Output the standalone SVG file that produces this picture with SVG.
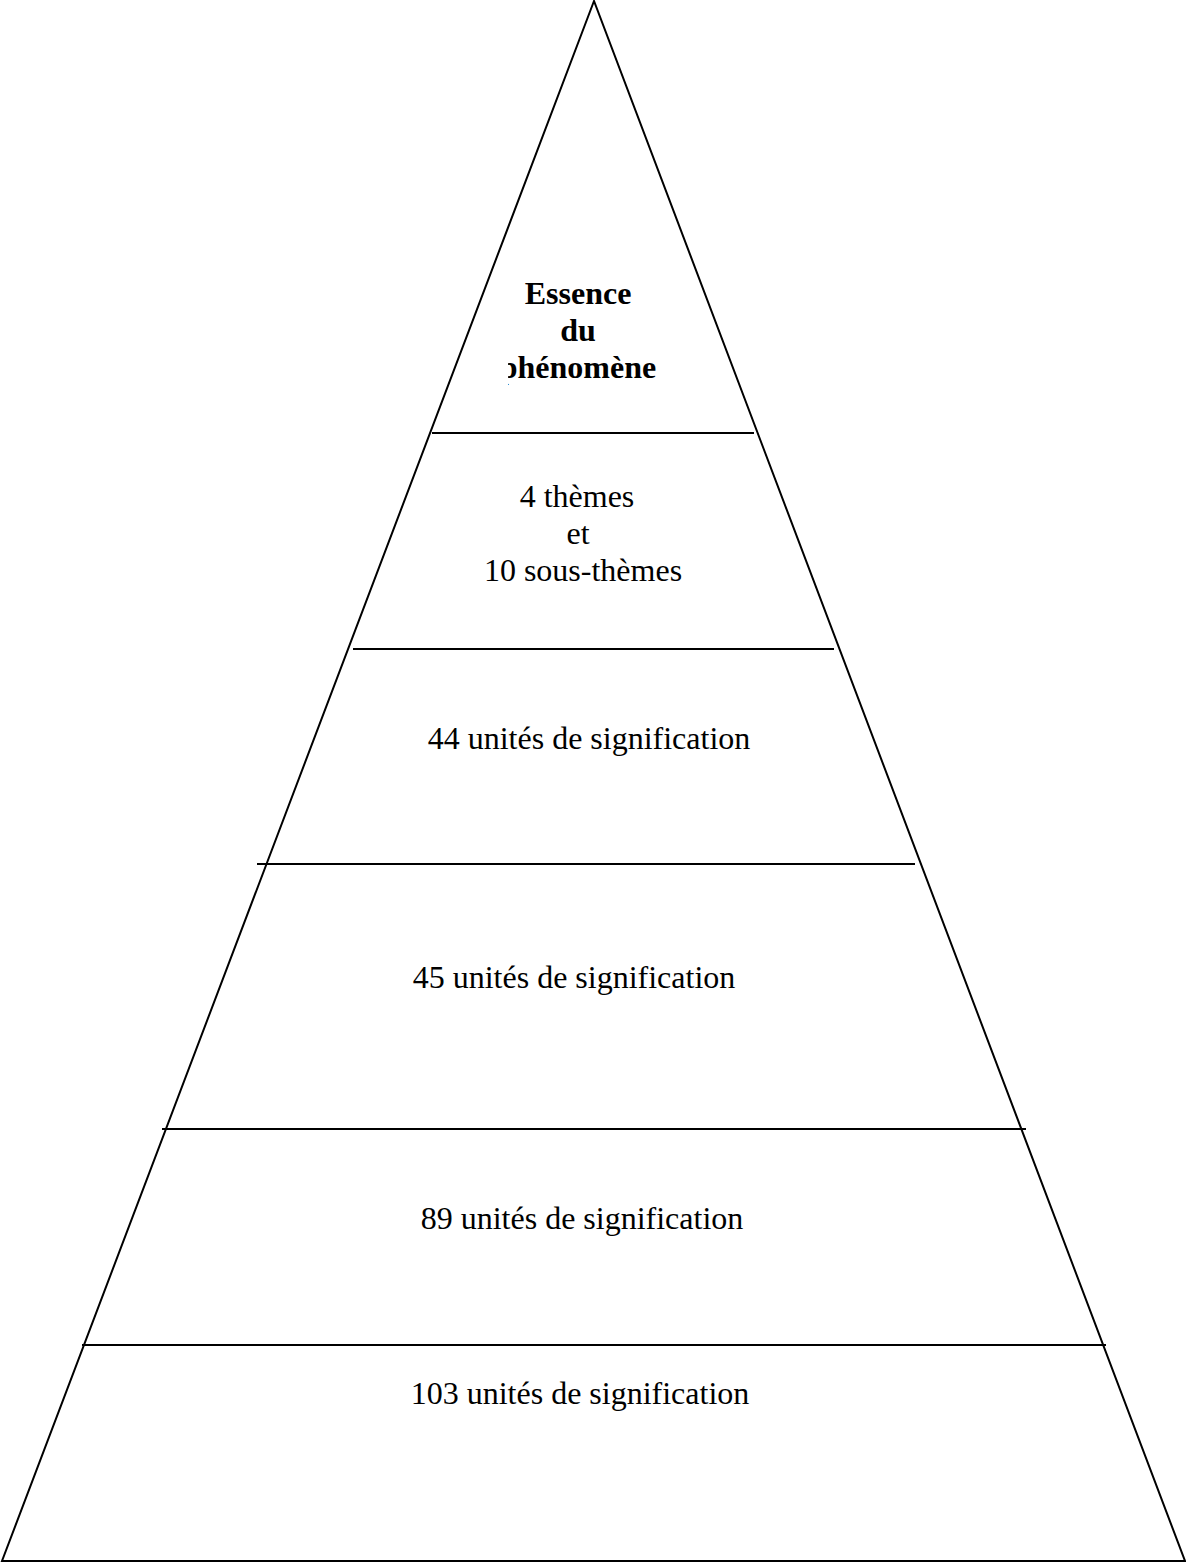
<svg xmlns="http://www.w3.org/2000/svg" width="1186" height="1564" viewBox="0 0 1186 1564">
<style>
.ln{stroke:#000;stroke-width:2;fill:none}
.t{font-family:"Liberation Serif","Times New Roman",serif;font-size:32px;fill:#000;text-anchor:middle}
.b{font-weight:bold}
</style>
<defs>
<clipPath id="clipTop"><rect x="508" y="250" width="200" height="150"/></clipPath>
</defs>
<rect width="1186" height="1564" fill="#fff"/>
<g id="pyramid">
<polygon class="ln" points="594,1 2,1561 1185,1561"/>
</g>
<g id="connectors">
<line class="ln" x1="432" y1="433" x2="754" y2="433"/>
<line class="ln" x1="353" y1="649" x2="834" y2="649"/>
<line class="ln" x1="257" y1="864" x2="915" y2="864"/>
<line class="ln" x1="162" y1="1129" x2="1026" y2="1129"/>
<line class="ln" x1="82" y1="1345" x2="1106" y2="1345"/>
</g>
<g id="level-essence" clip-path="url(#clipTop)">
<text class="t b" x="578" y="304">Essence</text>
<text class="t b" x="578" y="341">du</text>
<text class="t b" x="578" y="378">phénomène</text>
</g>
<g id="level-themes">
<text class="t" x="577" y="507">4 thèmes</text>
<text class="t" x="578" y="544">et</text>
<text class="t" x="583" y="581">10 sous-thèmes</text>
</g>
<g id="level-44">
<text class="t" x="589" y="749">44 unités de signification</text>
</g>
<g id="level-45">
<text class="t" x="574" y="988">45 unités de signification</text>
</g>
<g id="level-89">
<text class="t" x="582" y="1229">89 unités de signification</text>
</g>
<g id="level-103">
<text class="t" x="580" y="1404">103 unités de signification</text>
</g>
</svg>
